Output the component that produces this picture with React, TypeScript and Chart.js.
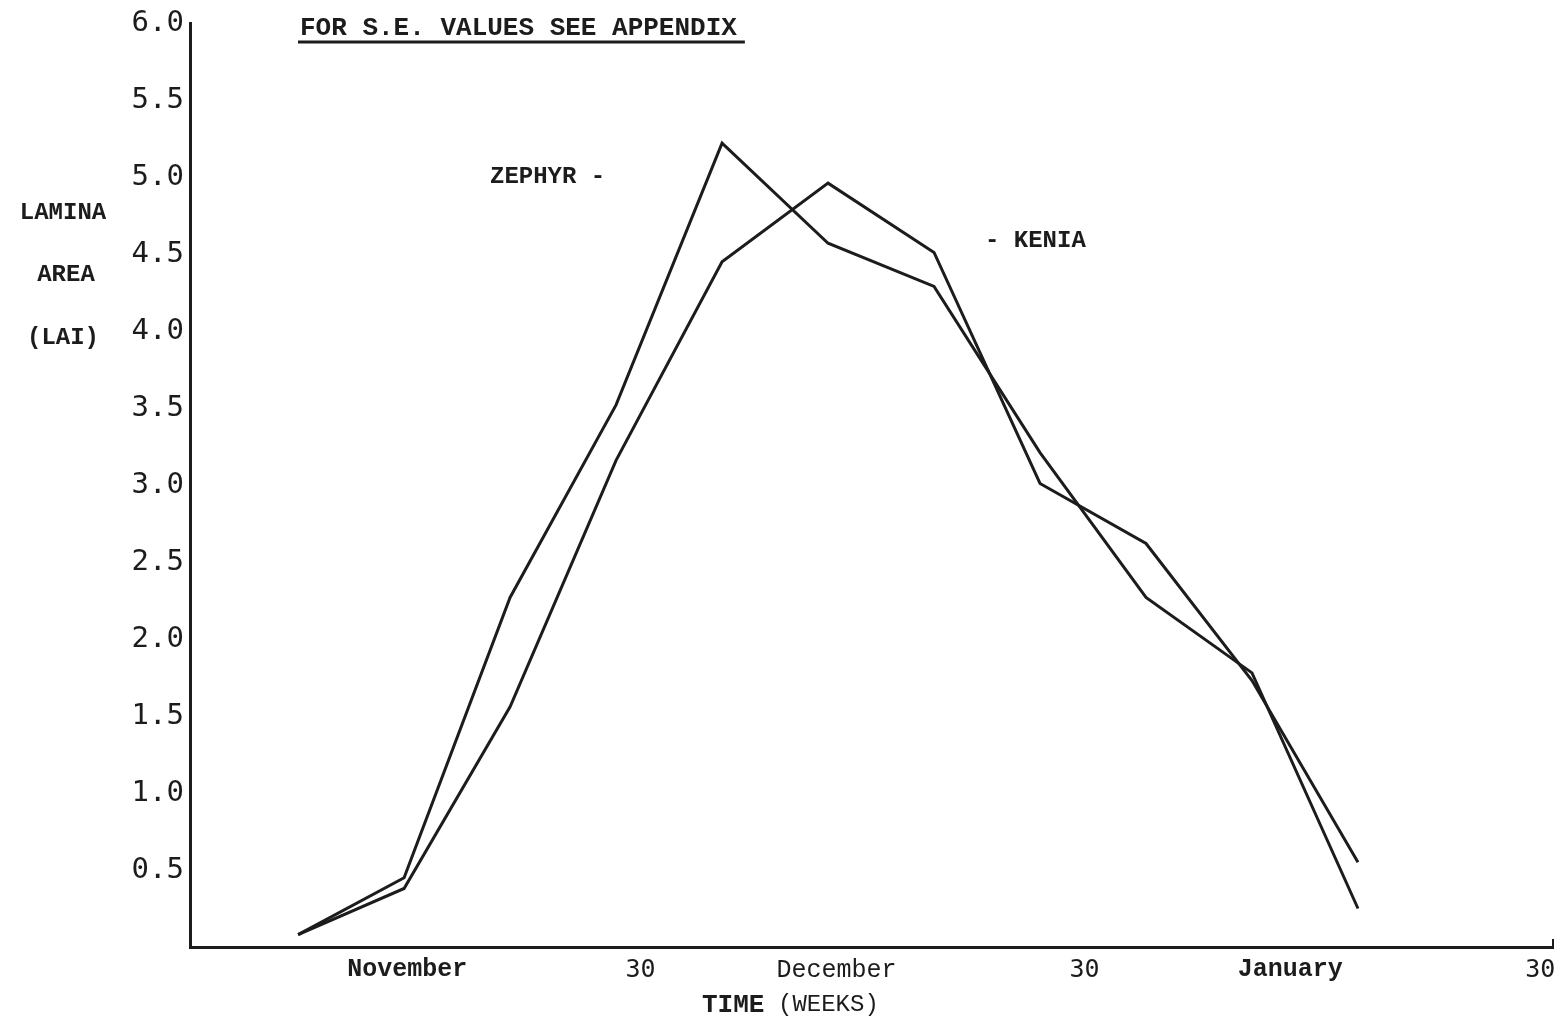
import React, { useEffect, useRef } from 'react';
import { Chart, registerables } from 'chart.js';

Chart.register(...registerables);

// ---- data ----
const WEEKS = [0, 1, 2, 3, 4, 5, 6, 7, 8, 9, 10];
const ZEPHYR = [0.08, 0.45, 2.27, 3.52, 5.22, 4.57, 4.29, 3.21, 2.27, 1.78, 0.25];
const KENIA = [0.08, 0.38, 1.56, 3.16, 4.45, 4.96, 4.51, 3.01, 2.62, 1.73, 0.55];
const X_TICK_POS = [1.03, 3.23, 5.08, 7.42, 9.36, 11.72];
const X_TICK_LABELS = ['November', '30', 'December', '30', 'January', '30'];
const X_TICK_BOLD = [true, false, false, false, true, false];
const X_TICK_SANS = [false, true, false, true, false, true];
const Y_MIN = 0;
const Y_MAX = 6;
const Y_STEP = 0.5;
const X_MIN = -1.02;
const X_MAX = 11.84;

const INK = '#1c1c1c';
const MONO = '"Liberation Mono", "DejaVu Sans Mono", monospace';
const SANSMONO = '"DejaVu Sans Mono", monospace';

const W = 1566;
const H = 1022;

const annotations = {
  id: 'annotations',
  afterDraw(chart: any) {
    const ctx = chart.ctx as CanvasRenderingContext2D;
    ctx.save();
    ctx.fillStyle = INK;
    ctx.strokeStyle = INK;
    ctx.textBaseline = 'middle';

    // top note
    ctx.font = `bold 26px ${MONO}`;
    ctx.textAlign = 'left';
    const note = 'FOR S.E. VALUES SEE APPENDIX';
    ctx.fillText(note, 300, 28);
    const nw = ctx.measureText(note).width;
    ctx.lineWidth = 3;
    ctx.beginPath();
    ctx.moveTo(298, 42);
    ctx.lineTo(300 + nw + 8, 42);
    ctx.stroke();

    // series labels
    ctx.font = `bold 24px ${MONO}`;
    ctx.fillText('ZEPHYR -', 490, 177);
    ctx.fillText('- KENIA', 985, 241);

    // y title
    ctx.textAlign = 'center';
    ctx.font = `bold 24px ${MONO}`;
    ctx.fillText('LAMINA', 63, 213);
    ctx.fillText('AREA', 66, 275);
    ctx.fillText('(LAI)', 63, 338);

    // x title
    ctx.textAlign = 'left';
    ctx.font = `bold 26px ${MONO}`;
    ctx.fillText('TIME', 702, 1005);
    ctx.font = `24px ${MONO}`;
    ctx.fillText('(WEEKS)', 778, 1005);

    // small end tick on x axis
    const a = chart.chartArea;
    ctx.lineWidth = 2;
    ctx.beginPath();
    ctx.moveTo(a.right, a.bottom);
    ctx.lineTo(a.right, a.bottom - 8);
    ctx.stroke();
    ctx.restore();
  },
};

const whiteBg = {
  id: 'whiteBg',
  beforeDraw(chart: any) {
    const ctx = chart.ctx;
    ctx.save();
    ctx.fillStyle = '#ffffff';
    ctx.fillRect(0, 0, chart.width, chart.height);
    ctx.restore();
  },
};

export default function App() {
  const ref = useRef<HTMLCanvasElement | null>(null);

  useEffect(() => {
    if (!ref.current) return;
    const mk = (label: string, ys: number[]) => ({
      label,
      data: WEEKS.map((x, i) => ({ x, y: ys[i] })),
      borderColor: INK,
      borderWidth: 3,
      pointRadius: 0,
      tension: 0,
      fill: false,
    });
    const chart = new Chart(ref.current, {
      type: 'line',
      data: { datasets: [mk('ZEPHYR', ZEPHYR), mk('KENIA', KENIA)] },
      options: {
        responsive: false,
        animation: false,
        layout: { padding: { top: 23, right: 13, left: 0, bottom: 0 } },
        plugins: { legend: { display: false }, tooltip: { enabled: false } },
        scales: {
          x: {
            type: 'linear',
            min: X_MIN,
            max: X_MAX,
            grid: { display: false },
            border: { display: true, width: 3, color: INK },
            afterBuildTicks: (scale: any) => {
              scale.ticks = X_TICK_POS.map((v) => ({ value: v }));
            },
            afterFit: (scale: any) => {
              scale.height = 75;
            },
            ticks: {
              autoSkip: false,
              maxRotation: 0,
              padding: 0,
              color: INK,
              callback: (_v: any, i: number) => X_TICK_LABELS[i],
              font: (c: any) => ({
                family: X_TICK_SANS[c.index] ? SANSMONO : MONO,
                size: 25,
                weight: X_TICK_BOLD[c.index] ? 'bold' : 'normal',
              }),
            },
          },
          y: {
            type: 'linear',
            min: Y_MIN,
            max: Y_MAX,
            grid: { display: false },
            border: { display: true, width: 3, color: INK },
            afterFit: (scale: any) => {
              scale.width = 190;
            },
            ticks: {
              stepSize: Y_STEP,
              padding: -2,
              color: INK,
              font: { family: SANSMONO, size: 29 },
              callback: (v: any) => (Number(v) === 0 ? '' : Number(v).toFixed(1)),
            },
          },
        },
      },
      plugins: [whiteBg, annotations],
    });
    return () => chart.destroy();
  }, []);

  return (
    <div style={{ position: 'absolute', left: 0, top: 0, width: W, height: H, background: '#fff' }}>
      <canvas ref={ref} width={W} height={H} style={{ display: 'block', width: W, height: H }} />
    </div>
  );
}
